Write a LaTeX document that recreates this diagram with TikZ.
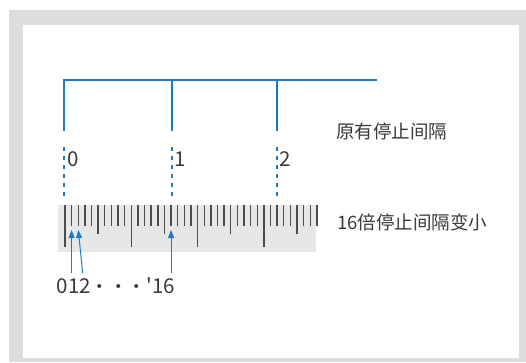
\documentclass[tikz,border=0pt]{standalone}
\usepackage{fontspec}
\setmainfont{Noto Sans CJK SC}
\newfontfamily\plaincjk{Noto Sans CJK SC}
\usetikzlibrary{arrows.meta}
\definecolor{framegray}{RGB}{220,221,220}
\definecolor{rulergray}{RGB}{230,231,231}
\definecolor{stopblue}{RGB}{30,122,192}
\definecolor{tickgray}{RGB}{80,74,76}
\definecolor{textgray}{RGB}{60,56,56}
\newcommand\bigdigits[1]{{\fontsize{20.5}{22}\selectfont #1}}
\begin{document}
\begin{tikzpicture}[x=1pt,y=-1pt,
        bracket/.style={stopblue,line width=2pt},
        stopdash/.style={stopblue,line width=2pt,dash pattern=on 3.5pt off 5.5pt},
        tick/.style={tickgray,line width=1.4pt},
        pointer/.style={stopblue,line width=1pt,-{Triangle[length=8pt,width=6pt]}},
        lbl/.style={inner sep=0pt,text=textgray,font=\plaincjk\fontsize{18.5}{20}\selectfont}]
                \useasboundingbox (0,0) rectangle (526,362);
                % frame
                \fill[framegray] (9,10) rectangle (526,362);
                \fill[white] (23,25) rectangle (518.5,357.7);
                % original stops
                \draw[bracket]
                    (63.5,131) -- (63.5,80) -- (376.5,80);
                \draw[bracket]
                    (171.5,80) -- (171.5,131);
                \draw[bracket]
                    (277,80) -- (277,131);
                \foreach \x in {63.5,171.5,277}
                    \draw[stopdash] (\x,147) -- (\x,196);
                \path
                    (67.5,166.5) node[lbl,anchor=base west] (old0) {\bigdigits{0}}
                    (174,166.5) node[lbl,anchor=base west] (old1) {\bigdigits{1}}
                    (279,166.5) node[lbl,anchor=base west] (old2) {\bigdigits{2}};
                \node[lbl,anchor=base west] (oldgap) at (336,138.5) {原有停止间隔};
                % fine scale
                \fill[rulergray] (58.3,205) rectangle (316,252.3);
                \foreach \i in {0,...,38}{
                    \pgfmathsetmacro\tickend{ifthenelse(mod(\i,10)==0,246.5,ifthenelse(mod(\i,5)==0,234,226))}
                    \draw[tick] (65+\i*6.63,205) -- (65+\i*6.63,\tickend);
                }
                \node[lbl,anchor=base west] (newgap) at (337,229) {16倍停止间隔变小};
                \node[lbl,anchor=base west] (fine) at (56.5,293.5)
                    {\bigdigits{012}・・・\bigdigits{'16}};
                % pointers
                \coordinate (tip0) at (71.6,230);
                \coordinate (tip1) at (78.3,230);
                \coordinate (tip16) at (171.1,230);
                \coordinate (tail0) at (71.6,273);
                \coordinate (tail1) at (82.7,273);
                \coordinate (tail16) at (171.1,273);
                \draw[pointer] (tail0) -- (tip0);
                \draw[pointer] (tail1) -- (tip1);
                \draw[pointer] (tail16) -- (tip16);
            \end{tikzpicture}
\end{document}
